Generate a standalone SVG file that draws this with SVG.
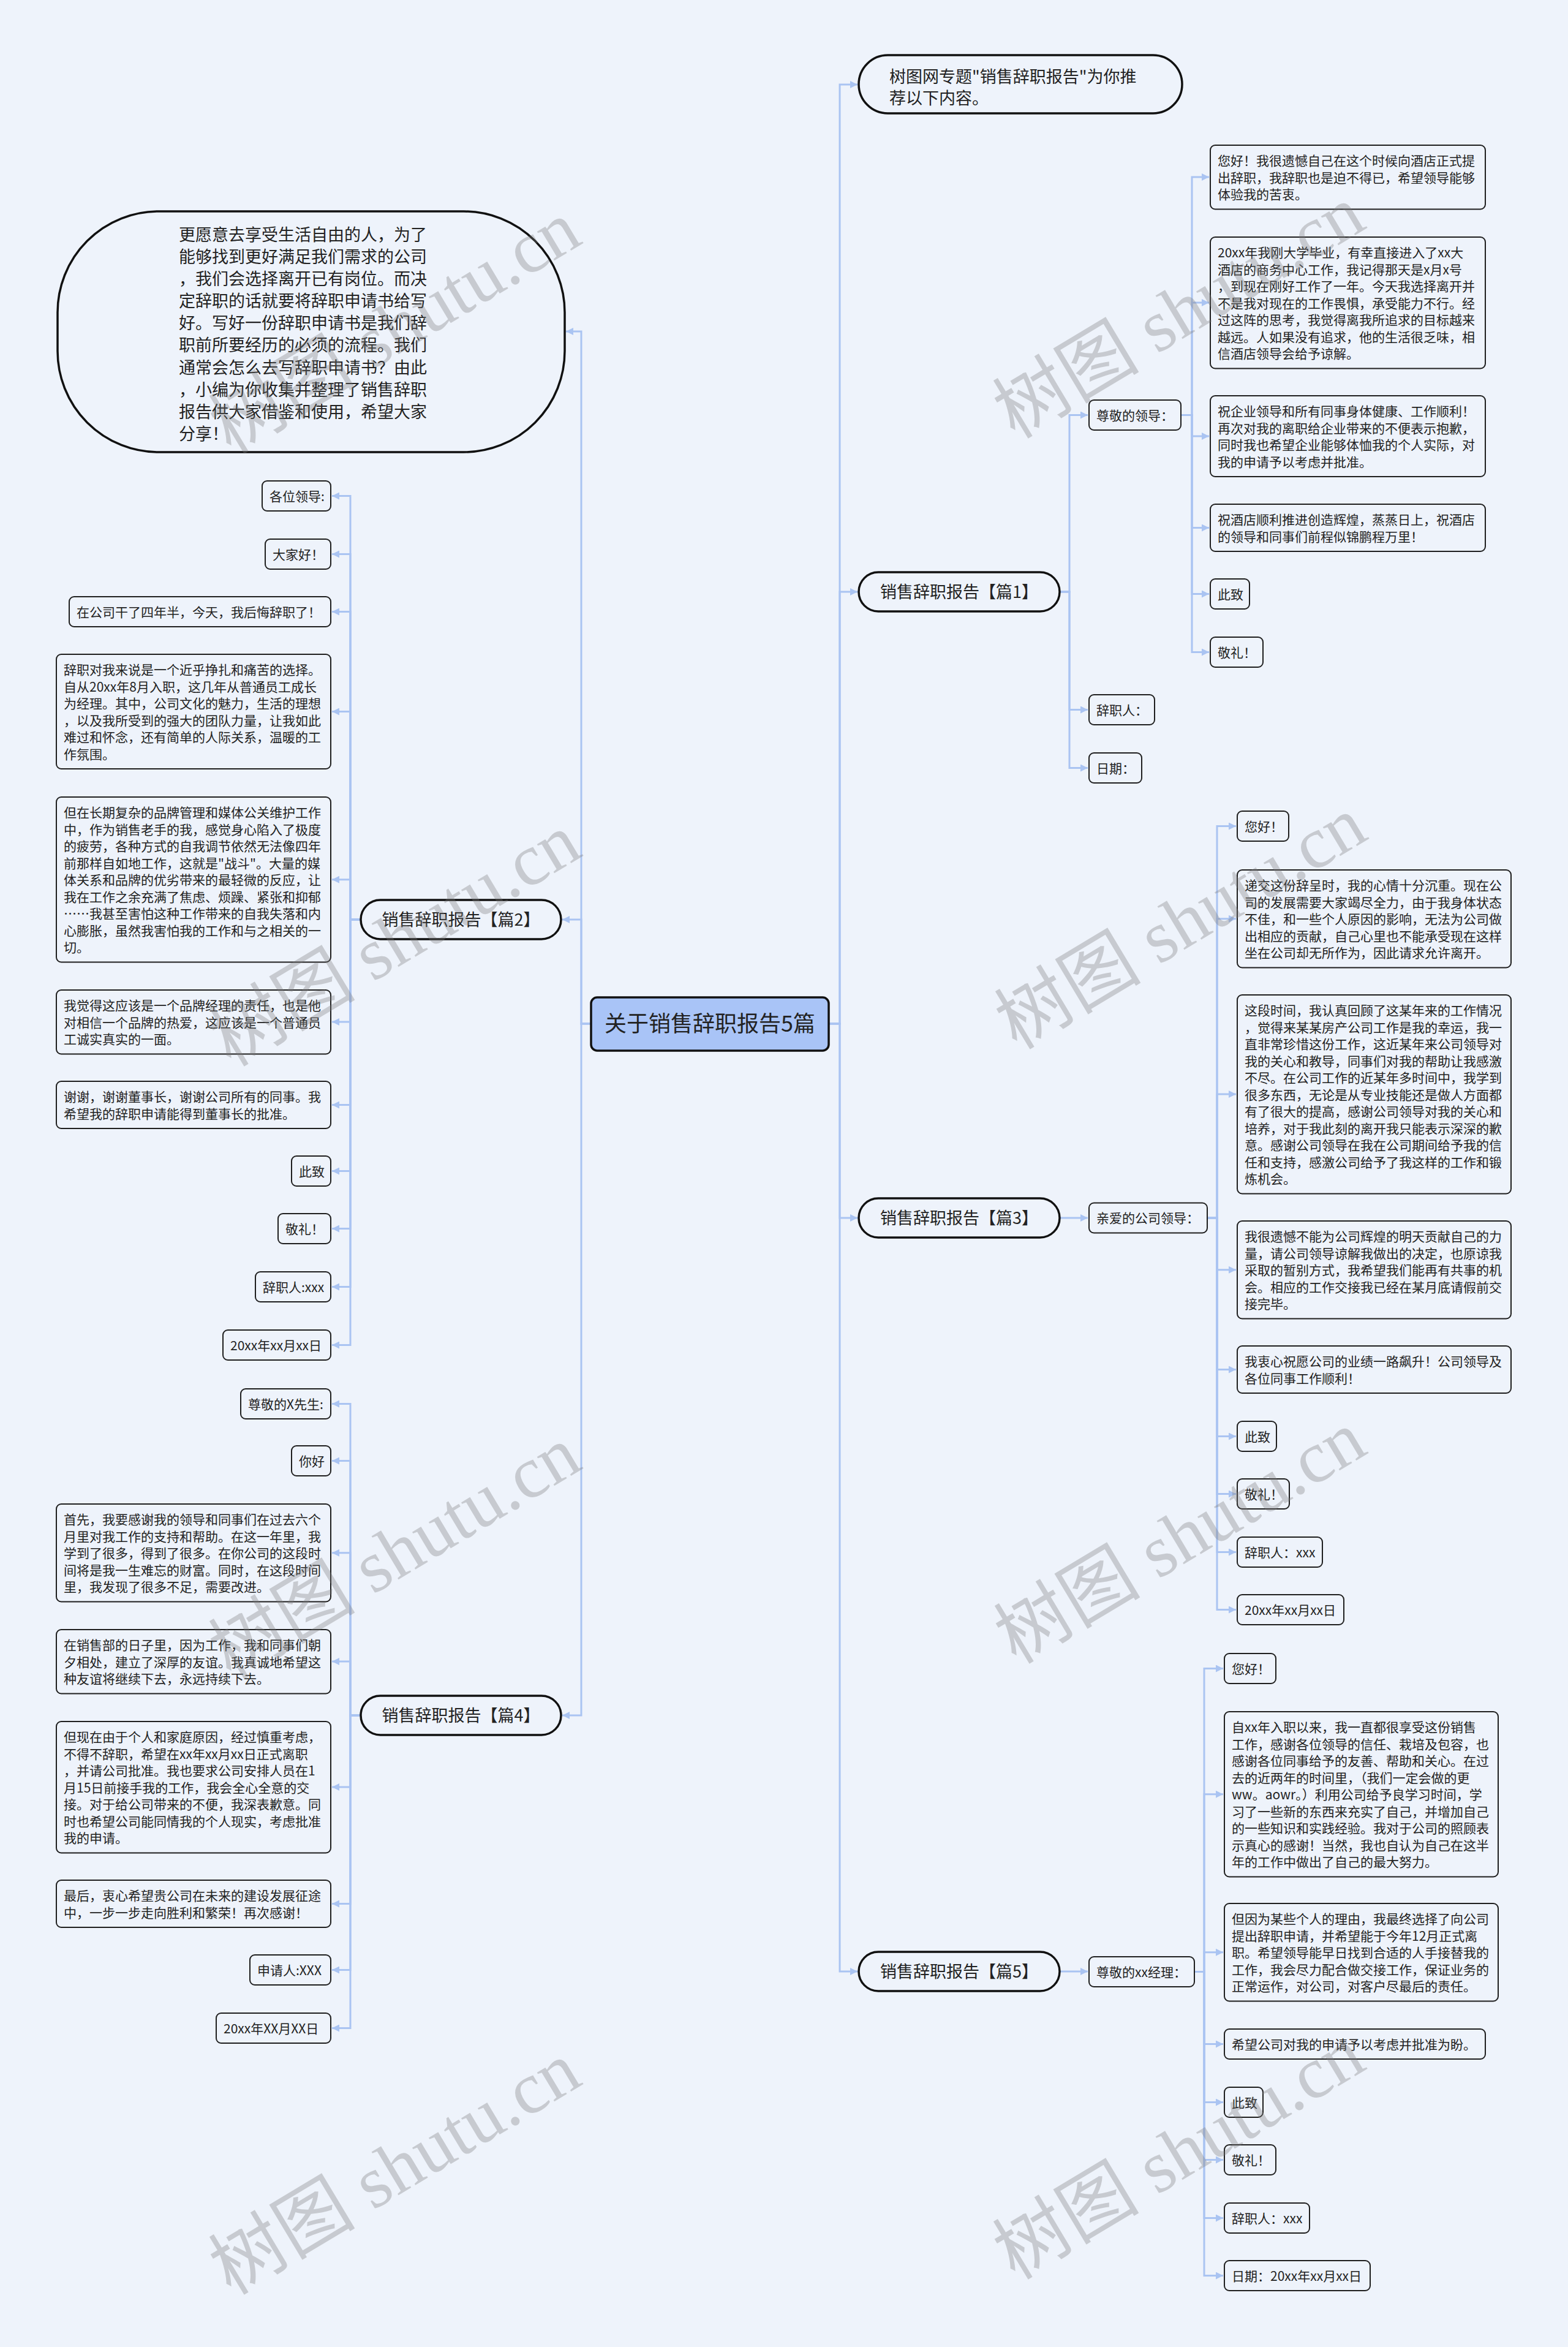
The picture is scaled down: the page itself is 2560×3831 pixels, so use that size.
<svg xmlns="http://www.w3.org/2000/svg" width="2560" height="3831" viewBox="0 0 2560 3831">
<defs>
<style>
.n{fill:#eef3fb;stroke:#1f1f1f;stroke-width:2}
.l1{fill:#eef3fb;stroke:#111;stroke-width:3.5}
.root{fill:#a9c4f7;stroke:#111;stroke-width:3.5}
text{font-family:"Noto Sans CJK SC","Noto Sans",sans-serif;fill:#222}
.t{font-size:21px}
.t1{font-size:27px}
.tr{font-size:36px}
.mid{text-anchor:middle}
.c{fill:none;stroke:#aac4f2;stroke-width:3;marker-end:url(#a)}
.wm{font-family:"Liberation Serif","Noto Sans CJK SC",serif;font-size:120px;fill:#7a7a7a;opacity:0.33;text-anchor:middle}
</style>
<marker id="a" markerUnits="userSpaceOnUse" markerWidth="13" markerHeight="12" refX="12" refY="6" orient="auto"><path d="M0,0 L12,6 L0,12 z" fill="#aac4f2"/></marker>
</defs>
<rect width="2560" height="3831" fill="#eef3fb"/>

<g id="connectors">
<path class="c" d="M1353 1671H1371V138H1400"/>
<path class="c" d="M1353 1671H1371V966H1400"/>
<path class="c" d="M1353 1671H1371V1988H1400"/>
<path class="c" d="M1353 1671H1371V3218H1400"/>
<path class="c" d="M965 1671H949V541H924"/>
<path class="c" d="M965 1671H949V1501H918"/>
<path class="c" d="M965 1671H949V2800H918"/>
<path class="c" d="M1730 966H1746V677.5H1776"/>
<path class="c" d="M1730 966H1746V1158.5H1776"/>
<path class="c" d="M1730 966H1746V1253.5H1776"/>
<path class="c" d="M1928 677.5H1946V289H1974"/>
<path class="c" d="M1928 677.5H1946V494H1974"/>
<path class="c" d="M1928 677.5H1946V712H1974"/>
<path class="c" d="M1928 677.5H1946V861.5H1974"/>
<path class="c" d="M1928 677.5H1946V969.5H1974"/>
<path class="c" d="M1928 677.5H1946V1064.5H1974"/>
<path class="c" d="M1730 1988H1776"/>
<path class="c" d="M1971 1988H1987V1348.5H2018"/>
<path class="c" d="M1971 1988H1987V1499.75H2018"/>
<path class="c" d="M1971 1988H1987V1786H2018"/>
<path class="c" d="M1971 1988H1987V2072.75H2018"/>
<path class="c" d="M1971 1988H1987V2235.5H2018"/>
<path class="c" d="M1971 1988H1987V2344.5H2018"/>
<path class="c" d="M1971 1988H1987V2438.5H2018"/>
<path class="c" d="M1971 1988H1987V2533.5H2018"/>
<path class="c" d="M1971 1988H1987V2627.5H2018"/>
<path class="c" d="M1730 3218H1776"/>
<path class="c" d="M1950 3218.5H1966V2723.5H1997"/>
<path class="c" d="M1950 3218.5H1966V2928.75H1997"/>
<path class="c" d="M1950 3218.5H1966V3186.75H1997"/>
<path class="c" d="M1950 3218.5H1966V3336.5H1997"/>
<path class="c" d="M1950 3218.5H1966V3431.5H1997"/>
<path class="c" d="M1950 3218.5H1966V3525.5H1997"/>
<path class="c" d="M1950 3218.5H1966V3620.5H1997"/>
<path class="c" d="M1950 3218.5H1966V3714.5H1997"/>
<path class="c" d="M589 1501H572V809.5H542"/>
<path class="c" d="M589 1501H572V904.5H542"/>
<path class="c" d="M589 1501H572V998.5H542"/>
<path class="c" d="M589 1501H572V1161.5H542"/>
<path class="c" d="M589 1501H572V1435.75H542"/>
<path class="c" d="M589 1501H572V1668H542"/>
<path class="c" d="M589 1501H572V1803.5H542"/>
<path class="c" d="M589 1501H572V1911.5H542"/>
<path class="c" d="M589 1501H572V2005.5H542"/>
<path class="c" d="M589 1501H572V2100.5H542"/>
<path class="c" d="M589 1501H572V2195.5H542"/>
<path class="c" d="M589 2800H572V2291.5H542"/>
<path class="c" d="M589 2800H572V2384.5H542"/>
<path class="c" d="M589 2800H572V2534.75H542"/>
<path class="c" d="M589 2800H572V2712H542"/>
<path class="c" d="M589 2800H572V2917H542"/>
<path class="c" d="M589 2800H572V3107.5H542"/>
<path class="c" d="M589 2800H572V3215.5H542"/>
<path class="c" d="M589 2800H572V3310.5H542"/>
</g>

<g id="root">
<rect class="root" x="965" y="1628" width="388" height="87" rx="10"/>
<text class="tr mid" x="1159" y="1684">关于销售辞职报告5篇</text>
</g>

<g id="intro">
<rect class="l1" x="1402" y="90" width="528" height="95" rx="47.5"/>
<text class="t1"><tspan x="1452" y="135">树图网专题"销售辞职报告"为你推</tspan><tspan x="1452" y="170">荐以下内容。</tspan></text>
</g>

<g id="summary">
<rect class="l1" x="94" y="345" width="828" height="393" rx="165"/>
<text class="t1">
<tspan x="292" y="393">更愿意去享受生活自由的人，为了</tspan>
<tspan x="292" y="429">能够找到更好满足我们需求的公司</tspan>
<tspan x="292" y="465">，我们会选择离开已有岗位。而决</tspan>
<tspan x="292" y="501">定辞职的话就要将辞职申请书给写</tspan>
<tspan x="292" y="537">好。写好一份辞职申请书是我们辞</tspan>
<tspan x="292" y="573">职前所要经历的必须的流程。我们</tspan>
<tspan x="292" y="610">通常会怎么去写辞职申请书？由此</tspan>
<tspan x="292" y="646">，小编为你收集并整理了销售辞职</tspan>
<tspan x="292" y="682">报告供大家借鉴和使用，希望大家</tspan>
<tspan x="292" y="718">分享！</tspan>
</text>
</g>

<!-- 篇1 -->
<g id="p1">
<rect class="l1" x="1402" y="934" width="328" height="64" rx="32"/>
<text class="t1 mid" x="1566" y="976">销售辞职报告【篇1】</text>
</g>
<g id="p1-a">
<rect class="n" x="1778" y="653" width="150" height="49" rx="8"/>
<text class="t" x="1790" y="685.5">尊敬的领导：</text>
</g>
<g id="p1-b">
<rect class="n" x="1778" y="1134" width="107" height="49" rx="8"/>
<text class="t" x="1790" y="1166.5">辞职人：</text>
</g>
<g id="p1-c">
<rect class="n" x="1778" y="1229" width="86" height="49" rx="8"/>
<text class="t" x="1790" y="1261.5">日期：</text>
</g>
<g id="p1-a1">
<rect class="n" x="1976" y="237" width="449" height="104.5" rx="8"/>
<text class="t"><tspan x="1988" y="270">您好！我很遗憾自己在这个时候向酒店正式提</tspan><tspan x="1988" y="297.5">出辞职，我辞职也是迫不得已，希望领导能够</tspan><tspan x="1988" y="325">体验我的苦衷。</tspan></text>
</g>
<g id="p1-a2">
<rect class="n" x="1976" y="387" width="449" height="214.5" rx="8"/>
<text class="t">
<tspan x="1988" y="420">20xx年我刚大学毕业，有幸直接进入了xx大</tspan>
<tspan x="1988" y="447.5">酒店的商务中心工作，我记得那天是x月x号</tspan>
<tspan x="1988" y="475">，到现在刚好工作了一年。今天我选择离开并</tspan>
<tspan x="1988" y="502.5">不是我对现在的工作畏惧，承受能力不行。经</tspan>
<tspan x="1988" y="530">过这阵的思考，我觉得离我所追求的目标越来</tspan>
<tspan x="1988" y="557.5">越远。人如果没有追求，他的生活很乏味，相</tspan>
<tspan x="1988" y="585">信酒店领导会给予谅解。</tspan>
</text>
</g>
<g id="p1-a3">
<rect class="n" x="1976" y="646" width="449" height="132" rx="8"/>
<text class="t">
<tspan x="1988" y="679">祝企业领导和所有同事身体健康、工作顺利！</tspan>
<tspan x="1988" y="706.5">再次对我的离职给企业带来的不便表示抱歉，</tspan>
<tspan x="1988" y="734">同时我也希望企业能够体恤我的个人实际，对</tspan>
<tspan x="1988" y="761.5">我的申请予以考虑并批准。</tspan>
</text>
</g>
<g id="p1-a4">
<rect class="n" x="1976" y="823" width="449" height="77" rx="8"/>
<text class="t"><tspan x="1988" y="856">祝酒店顺利推进创造辉煌，蒸蒸日上，祝酒店</tspan><tspan x="1988" y="883.5">的领导和同事们前程似锦鹏程万里！</tspan></text>
</g>
<g id="p1-a5">
<rect class="n" x="1976" y="945" width="64" height="49" rx="8"/>
<text class="t" x="1988" y="977.5">此致</text>
</g>
<g id="p1-a6">
<rect class="n" x="1976" y="1040" width="86" height="49" rx="8"/>
<text class="t" x="1988" y="1072.5">敬礼！</text>
</g>

<!-- 篇3 -->
<g id="p3">
<rect class="l1" x="1402" y="1956" width="328" height="64" rx="32"/>
<text class="t1 mid" x="1566" y="1998">销售辞职报告【篇3】</text>
</g>
<g id="p3-a">
<rect class="n" x="1778" y="1963.5" width="193" height="49" rx="8"/>
<text class="t" x="1790" y="1996">亲爱的公司领导：</text>
</g>
<g id="p3-a1">
<rect class="n" x="2020" y="1324" width="84" height="49" rx="8"/>
<text class="t" x="2032" y="1356.5">您好！</text>
</g>
<g id="p3-a2">
<rect class="n" x="2020" y="1420" width="447" height="159.5" rx="8"/>
<text class="t">
<tspan x="2032" y="1453">递交这份辞呈时，我的心情十分沉重。现在公</tspan>
<tspan x="2032" y="1480.5">司的发展需要大家竭尽全力，由于我身体状态</tspan>
<tspan x="2032" y="1508">不佳，和一些个人原因的影响，无法为公司做</tspan>
<tspan x="2032" y="1535.5">出相应的贡献，自己心里也不能承受现在这样</tspan>
<tspan x="2032" y="1563">坐在公司却无所作为，因此请求允许离开。</tspan>
</text>
</g>
<g id="p3-a3">
<rect class="n" x="2020" y="1624" width="447" height="324.5" rx="8"/>
<text class="t">
<tspan x="2032" y="1657">这段时间，我认真回顾了这某年来的工作情况</tspan>
<tspan x="2032" y="1684.5">，觉得来某某房产公司工作是我的幸运，我一</tspan>
<tspan x="2032" y="1712">直非常珍惜这份工作，这近某年来公司领导对</tspan>
<tspan x="2032" y="1739.5">我的关心和教导，同事们对我的帮助让我感激</tspan>
<tspan x="2032" y="1767">不尽。在公司工作的近某年多时间中，我学到</tspan>
<tspan x="2032" y="1794.5">很多东西，无论是从专业技能还是做人方面都</tspan>
<tspan x="2032" y="1822">有了很大的提高，感谢公司领导对我的关心和</tspan>
<tspan x="2032" y="1849.5">培养，对于我此刻的离开我只能表示深深的歉</tspan>
<tspan x="2032" y="1877">意。感谢公司领导在我在公司期间给予我的信</tspan>
<tspan x="2032" y="1904.5">任和支持，感激公司给予了我这样的工作和锻</tspan>
<tspan x="2032" y="1932">炼机会。</tspan>
</text>
</g>
<g id="p3-a4">
<rect class="n" x="2020" y="1993" width="447" height="159.5" rx="8"/>
<text class="t">
<tspan x="2032" y="2026">我很遗憾不能为公司辉煌的明天贡献自己的力</tspan>
<tspan x="2032" y="2053.5">量，请公司领导谅解我做出的决定，也原谅我</tspan>
<tspan x="2032" y="2081">采取的暂别方式，我希望我们能再有共事的机</tspan>
<tspan x="2032" y="2108.5">会。相应的工作交接我已经在某月底请假前交</tspan>
<tspan x="2032" y="2136">接完毕。</tspan>
</text>
</g>
<g id="p3-a5">
<rect class="n" x="2020" y="2197" width="447" height="77" rx="8"/>
<text class="t"><tspan x="2032" y="2230">我衷心祝愿公司的业绩一路飙升！公司领导及</tspan><tspan x="2032" y="2257.5">各位同事工作顺利！</tspan></text>
</g>
<g id="p3-a6">
<rect class="n" x="2020" y="2320" width="64" height="49" rx="8"/>
<text class="t" x="2032" y="2352.5">此致</text>
</g>
<g id="p3-a7">
<rect class="n" x="2020" y="2414" width="85" height="49" rx="8"/>
<text class="t" x="2032" y="2446.5">敬礼！</text>
</g>
<g id="p3-a8">
<rect class="n" x="2020" y="2509" width="139" height="49" rx="8"/>
<text class="t" x="2032" y="2541.5">辞职人：xxx</text>
</g>
<g id="p3-a9">
<rect class="n" x="2020" y="2603" width="174" height="49" rx="8"/>
<text class="t" x="2032" y="2635.5">20xx年xx月xx日</text>
</g>

<!-- 篇5 -->
<g id="p5">
<rect class="l1" x="1402" y="3186" width="328" height="64" rx="32"/>
<text class="t1 mid" x="1566" y="3228">销售辞职报告【篇5】</text>
</g>
<g id="p5-a">
<rect class="n" x="1778" y="3194" width="172" height="49" rx="8"/>
<text class="t" x="1790" y="3226.5">尊敬的xx经理：</text>
</g>
<g id="p5-a1">
<rect class="n" x="1999" y="2699" width="84" height="49" rx="8"/>
<text class="t" x="2011" y="2731.5">您好！</text>
</g>
<g id="p5-a2">
<rect class="n" x="1999" y="2794" width="447" height="269.5" rx="8"/>
<text class="t">
<tspan x="2011" y="2827">自xx年入职以来，我一直都很享受这份销售</tspan>
<tspan x="2011" y="2854.5">工作，感谢各位领导的信任、栽培及包容，也</tspan>
<tspan x="2011" y="2882">感谢各位同事给予的友善、帮助和关心。在过</tspan>
<tspan x="2011" y="2909.5">去的近两年的时间里，（我们一定会做的更</tspan>
<tspan x="2011" y="2937">ww。aowr。）利用公司给予良学习时间，学</tspan>
<tspan x="2011" y="2964.5">习了一些新的东西来充实了自己，并增加自己</tspan>
<tspan x="2011" y="2992">的一些知识和实践经验。我对于公司的照顾表</tspan>
<tspan x="2011" y="3019.5">示真心的感谢！当然，我也自认为自己在这半</tspan>
<tspan x="2011" y="3047">年的工作中做出了自己的最大努力。</tspan>
</text>
</g>
<g id="p5-a3">
<rect class="n" x="1999" y="3107" width="447" height="159.5" rx="8"/>
<text class="t">
<tspan x="2011" y="3140">但因为某些个人的理由，我最终选择了向公司</tspan>
<tspan x="2011" y="3167.5">提出辞职申请，并希望能于今年12月正式离</tspan>
<tspan x="2011" y="3195">职。希望领导能早日找到合适的人手接替我的</tspan>
<tspan x="2011" y="3222.5">工作，我会尽力配合做交接工作，保证业务的</tspan>
<tspan x="2011" y="3250">正常运作，对公司，对客户尽最后的责任。</tspan>
</text>
</g>
<g id="p5-a4">
<rect class="n" x="1999" y="3312" width="426" height="49" rx="8"/>
<text class="t" x="2011" y="3344.5">希望公司对我的申请予以考虑并批准为盼。</text>
</g>
<g id="p5-a5">
<rect class="n" x="1999" y="3407" width="63" height="49" rx="8"/>
<text class="t" x="2011" y="3439.5">此致</text>
</g>
<g id="p5-a6">
<rect class="n" x="1999" y="3501" width="84" height="49" rx="8"/>
<text class="t" x="2011" y="3533.5">敬礼！</text>
</g>
<g id="p5-a7">
<rect class="n" x="1999" y="3596" width="139" height="49" rx="8"/>
<text class="t" x="2011" y="3628.5">辞职人：xxx</text>
</g>
<g id="p5-a8">
<rect class="n" x="1999" y="3690" width="238" height="49" rx="8"/>
<text class="t" x="2011" y="3722.5">日期：20xx年xx月xx日</text>
</g>

<!-- 篇2 -->
<g id="p2">
<rect class="l1" x="589" y="1469" width="327" height="64" rx="32"/>
<text class="t1 mid" x="752.5" y="1511">销售辞职报告【篇2】</text>
</g>
<g id="p2-1">
<rect class="n" x="428" y="785" width="112" height="49" rx="8"/>
<text class="t" x="440" y="817.5">各位领导:</text>
</g>
<g id="p2-2">
<rect class="n" x="433" y="880" width="107" height="49" rx="8"/>
<text class="t" x="445" y="912.5">大家好！</text>
</g>
<g id="p2-3">
<rect class="n" x="113" y="974" width="427" height="49" rx="8"/>
<text class="t" x="125" y="1006.5">在公司干了四年半，今天，我后悔辞职了！</text>
</g>
<g id="p2-4">
<rect class="n" x="92" y="1068" width="448" height="187" rx="8"/>
<text class="t">
<tspan x="104" y="1101">辞职对我来说是一个近乎挣扎和痛苦的选择。</tspan>
<tspan x="104" y="1128.5">自从20xx年8月入职，这几年从普通员工成长</tspan>
<tspan x="104" y="1156">为经理。其中，公司文化的魅力，生活的理想</tspan>
<tspan x="104" y="1183.5">，以及我所受到的强大的团队力量，让我如此</tspan>
<tspan x="104" y="1211">难过和怀念，还有简单的人际关系，温暖的工</tspan>
<tspan x="104" y="1238.5">作氛围。</tspan>
</text>
</g>
<g id="p2-5">
<rect class="n" x="92" y="1301" width="448" height="269.5" rx="8"/>
<text class="t">
<tspan x="104" y="1334">但在长期复杂的品牌管理和媒体公关维护工作</tspan>
<tspan x="104" y="1361.5">中，作为销售老手的我，感觉身心陷入了极度</tspan>
<tspan x="104" y="1389">的疲劳，各种方式的自我调节依然无法像四年</tspan>
<tspan x="104" y="1416.5">前那样自如地工作，这就是"战斗"。大量的媒</tspan>
<tspan x="104" y="1444">体关系和品牌的优劣带来的最轻微的反应，让</tspan>
<tspan x="104" y="1471.5">我在工作之余充满了焦虑、烦躁、紧张和抑郁</tspan>
<tspan x="104" y="1499">……我甚至害怕这种工作带来的自我失落和内</tspan>
<tspan x="104" y="1526.5">心膨胀，虽然我害怕我的工作和与之相关的一</tspan>
<tspan x="104" y="1554">切。</tspan>
</text>
</g>
<g id="p2-6">
<rect class="n" x="92" y="1616" width="448" height="104.5" rx="8"/>
<text class="t">
<tspan x="104" y="1649">我觉得这应该是一个品牌经理的责任，也是他</tspan>
<tspan x="104" y="1676.5">对相信一个品牌的热爱，这应该是一个普通员</tspan>
<tspan x="104" y="1704">工诚实真实的一面。</tspan>
</text>
</g>
<g id="p2-7">
<rect class="n" x="92" y="1765" width="448" height="77" rx="8"/>
<text class="t"><tspan x="104" y="1798">谢谢，谢谢董事长，谢谢公司所有的同事。我</tspan><tspan x="104" y="1825.5">希望我的辞职申请能得到董事长的批准。</tspan></text>
</g>
<g id="p2-8">
<rect class="n" x="476" y="1887" width="64" height="49" rx="8"/>
<text class="t" x="488" y="1919.5">此致</text>
</g>
<g id="p2-9">
<rect class="n" x="454" y="1981" width="86" height="49" rx="8"/>
<text class="t" x="466" y="2013.5">敬礼！</text>
</g>
<g id="p2-10">
<rect class="n" x="417" y="2076" width="123" height="49" rx="8"/>
<text class="t" x="429" y="2108.5">辞职人:xxx</text>
</g>
<g id="p2-11">
<rect class="n" x="364" y="2171" width="176" height="49" rx="8"/>
<text class="t" x="376" y="2203.5">20xx年xx月xx日</text>
</g>

<!-- 篇4 -->
<g id="p4">
<rect class="l1" x="589" y="2768" width="327" height="64" rx="32"/>
<text class="t1 mid" x="752.5" y="2810">销售辞职报告【篇4】</text>
</g>
<g id="p4-1">
<rect class="n" x="393" y="2267" width="147" height="49" rx="8"/>
<text class="t" x="405" y="2299.5">尊敬的X先生:</text>
</g>
<g id="p4-2">
<rect class="n" x="476" y="2360" width="64" height="49" rx="8"/>
<text class="t" x="488" y="2392.5">你好</text>
</g>
<g id="p4-3">
<rect class="n" x="92" y="2455" width="448" height="159.5" rx="8"/>
<text class="t">
<tspan x="104" y="2488">首先，我要感谢我的领导和同事们在过去六个</tspan>
<tspan x="104" y="2515.5">月里对我工作的支持和帮助。在这一年里，我</tspan>
<tspan x="104" y="2543">学到了很多，得到了很多。在你公司的这段时</tspan>
<tspan x="104" y="2570.5">间将是我一生难忘的财富。同时，在这段时间</tspan>
<tspan x="104" y="2598">里，我发现了很多不足，需要改进。</tspan>
</text>
</g>
<g id="p4-4">
<rect class="n" x="92" y="2660" width="448" height="104.5" rx="8"/>
<text class="t">
<tspan x="104" y="2693">在销售部的日子里，因为工作，我和同事们朝</tspan>
<tspan x="104" y="2720.5">夕相处，建立了深厚的友谊。我真诚地希望这</tspan>
<tspan x="104" y="2748">种友谊将继续下去，永远持续下去。</tspan>
</text>
</g>
<g id="p4-5">
<rect class="n" x="92" y="2810" width="448" height="214.5" rx="8"/>
<text class="t">
<tspan x="104" y="2843">但现在由于个人和家庭原因，经过慎重考虑，</tspan>
<tspan x="104" y="2870.5">不得不辞职，希望在xx年xx月xx日正式离职</tspan>
<tspan x="104" y="2898">，并请公司批准。我也要求公司安排人员在1</tspan>
<tspan x="104" y="2925.5">月15日前接手我的工作，我会全心全意的交</tspan>
<tspan x="104" y="2953">接。对于给公司带来的不便，我深表歉意。同</tspan>
<tspan x="104" y="2980.5">时也希望公司能同情我的个人现实，考虑批准</tspan>
<tspan x="104" y="3008">我的申请。</tspan>
</text>
</g>
<g id="p4-6">
<rect class="n" x="92" y="3069" width="448" height="77" rx="8"/>
<text class="t"><tspan x="104" y="3102">最后，衷心希望贵公司在未来的建设发展征途</tspan><tspan x="104" y="3129.5">中，一步一步走向胜利和繁荣！再次感谢！</tspan></text>
</g>
<g id="p4-7">
<rect class="n" x="408" y="3191" width="132" height="49" rx="8"/>
<text class="t" x="420" y="3223.5">申请人:XXX</text>
</g>
<g id="p4-8">
<rect class="n" x="353" y="3286" width="187" height="49" rx="8"/>
<text class="t" x="365" y="3318.5">20xx年XX月XX日</text>
</g>

<g id="watermark">
<text class="wm" transform="translate(645 535) rotate(-31)" y="40">树图 shutu.cn</text>
<text class="wm" transform="translate(645 1535) rotate(-31)" y="40">树图 shutu.cn</text>
<text class="wm" transform="translate(645 2535) rotate(-31)" y="40">树图 shutu.cn</text>
<text class="wm" transform="translate(645 3540) rotate(-31)" y="40">树图 shutu.cn</text>
<text class="wm" transform="translate(1925 510) rotate(-31)" y="40">树图 shutu.cn</text>
<text class="wm" transform="translate(1928 1507) rotate(-31)" y="40">树图 shutu.cn</text>
<text class="wm" transform="translate(1927 2510) rotate(-31)" y="40">树图 shutu.cn</text>
<text class="wm" transform="translate(1925 3515) rotate(-31)" y="40">树图 shutu.cn</text>
</g>
</svg>
